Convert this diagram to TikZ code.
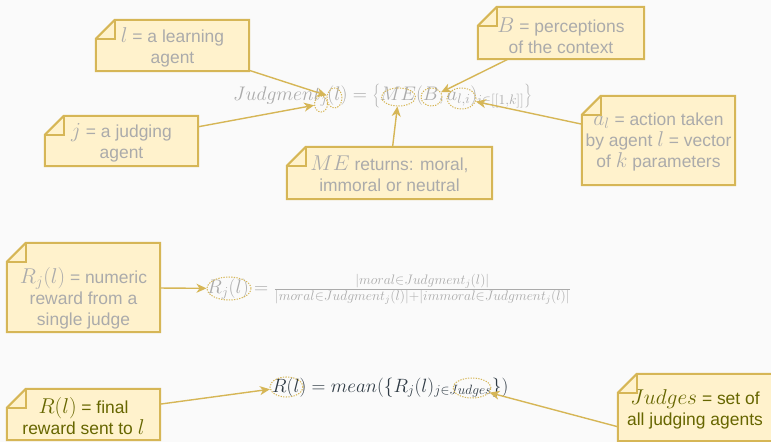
\RequirePackage{fix-cm}
\documentclass[tikz,border=0pt]{standalone}
\usepackage{fontspec}
\setmainfont{Liberation Sans}
\usetikzlibrary{arrows.meta,shapes.geometric,calc}
\definecolor{bgc}{HTML}{FAFAFA}
\definecolor{nfill}{HTML}{FFF2CC}
\definecolor{nline}{HTML}{D6B656}
\definecolor{gtext}{HTML}{ABABAB}
\definecolor{otext}{HTML}{666600}
\definecolor{dtext}{HTML}{2E3A44}
\newcommand\mth[1]{{\fontsize{21.5}{21}\selectfont$#1$}}
\pgfdeclarelayer{background}
\pgfsetlayers{background,main}
\begin{document}
\begin{tikzpicture}[x=1bp,y=-1bp,
  notebox/.style={rectangle, inner sep=0pt, draw=none},
  notetext/.style={inner sep=0pt, align=center, font=\fontsize{17.5}{21}\selectfont},
  gray text/.style={notetext, text=gtext},
  olive text/.style={notetext, text=otext},
  formula/.style={inner sep=0pt, anchor=base west, font=\fontsize{19.7}{23}\selectfont},
  ell/.style={ellipse, draw=nline, line width=1bp, dash pattern=on 1.3bp off 1.3bp, inner sep=0pt},
  arr/.style={draw=nline, line width=1.4bp, -{Stealth[length=10bp,width=9bp,inset=3bp]}},
  notefill/.style={fill=nfill, draw=nline, line width=2bp, line join=miter},
  notefold/.style={draw=nline, line width=2bp}
]
\useasboundingbox (0,0) rectangle (771,442);

% note boxes (anchoring shapes)
\node[notebox, minimum width=153bp, minimum height=51bp] (b1) at (172.5,45.5) {};
\node[notebox, minimum width=153bp, minimum height=50bp] (b2) at (121.5,141) {};
\node[notebox, minimum width=205bp, minimum height=52bp] (b3) at (389.5,173) {};
\node[notebox, minimum width=166bp, minimum height=52bp] (b4) at (561,33) {};
\node[notebox, minimum width=153bp, minimum height=89bp] (b5) at (658.5,140.5) {};
\node[notebox, minimum width=153bp, minimum height=89bp] (b6) at (83.5,287.5) {};
\node[notebox, minimum width=153bp, minimum height=51bp] (b7) at (83.5,414.5) {};
\node[notebox, minimum width=154bp, minimum height=67bp] (b8) at (695,407.5) {};

% note texts
\node[gray text] (t1) at (172.5,47.5) {\mth{l} = a learning\\agent};
\node[gray text] (t2) at (121.5,143) {\mth{j} = a judging\\agent};
\node[gray text] (t3) at (389.5,173.5) {\mth{ME} returns: moral,\\immoral or neutral};
\node[gray text] (t4) at (561,36) {\mth{B} = perceptions\\of the context};
\node[gray text] (t5) at (658.5,142) {\mth{a_l} = action taken\\by agent \mth{l} = vector\\of \mth{k} parameters};
\node[gray text] (t6) at (83.5,298) {\mth{R_j(l)} = numeric\\reward from a\\single judge};
\node[olive text] (t7) at (83.5,416.5) {\mth{R(l)} = final\\reward sent to \mth{l}};
\node[olive text] (t8) at (695,409.5) {\mth{Judges} = set of\\all judging agents};

% formulas
\node[formula, text=gtext] (f1) at (233,101) {$Judgment_j(l)=\left\{ME(B,a_{l,i})_{i\in[[1,k]]}\right\}$};
\node[formula, text=gtext] (f2) at (207,294) {$R_j(l)=\frac{|moral\in Judgment_j(l)|}{|moral\in Judgment_j(l)|+|immoral\in Judgment_j(l)|}$};
\node[formula, text=dtext, font=\fontsize{19.3}{23}\selectfont] (f3) at (272,392) {$R(l)=mean(\{R_j(l)_{j\in Judges}\})$};

% dotted ellipses
\node[ell, minimum width=13bp, minimum height=16bp] (ej) at (321,104) {};
\node[ell, minimum width=15bp, minimum height=20bp] (el) at (334.5,98) {};
\node[ell, minimum width=34bp, minimum height=18bp] (eME) at (398.5,97) {};
\node[ell, minimum width=21bp, minimum height=18bp] (eB) at (431.5,97) {};
\node[ell, minimum width=29bp, minimum height=21bp] (ea) at (461.5,98.5) {};
\node[ell, minimum width=44bp, minimum height=23bp] (eRj) at (229,288.5) {};
\node[ell, minimum width=33bp, minimum height=20bp] (eR) at (286.5,387) {};
\node[ell, minimum width=38bp, minimum height=20bp] (eJ) at (472,388) {};

% connectors
\draw[arr] (b1) -- (el);
\draw[arr] (b2) -- (ej);
\draw[arr] (b3) -- (eME);
\draw[arr] (b4) -- (eB);
\draw[arr] (b5) -- (ea);
\draw[arr] (b6) -- (eRj);
\draw[arr] (b7) -- (eR);
\draw[arr] (b8.194) -- (eJ);

\begin{pgfonlayer}{background}
  \fill[bgc] (0,0) rectangle (771,442);
  \foreach \i in {1,...,8} {
    \path[notefill] ($(b\i.north west)+(19,0)$) -- (b\i.north east) -- (b\i.south east)
      -- (b\i.south west) -- ($(b\i.north west)+(0,19)$) -- cycle;
    \draw[notefold] ($(b\i.north west)+(0,19)$) -- ($(b\i.north west)+(19,19)$)
      -- ($(b\i.north west)+(19,0)$);
  }
\end{pgfonlayer}
\end{tikzpicture}
\end{document}
